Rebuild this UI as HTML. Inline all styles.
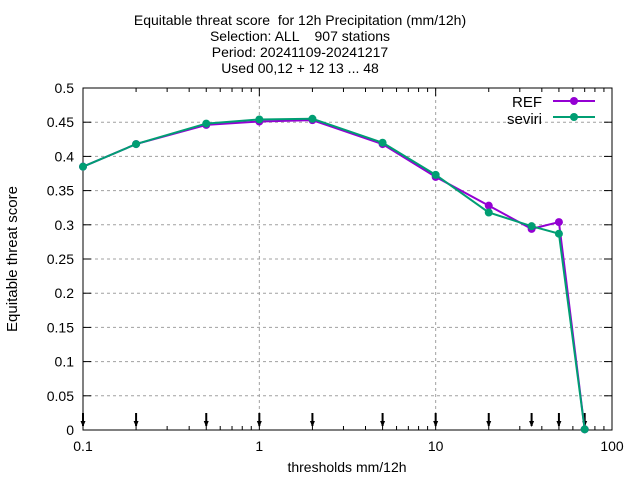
<!DOCTYPE html>
<html><head><meta charset="utf-8"><style>body{margin:0;background:#fff}svg{display:block;font-family:"Liberation Sans",sans-serif}text{white-space:pre}</style></head>
<body>
<svg id="chart" width="640" height="480" viewBox="0 0 640 480" xmlns="http://www.w3.org/2000/svg">
<g font-size="14" text-anchor="middle" fill="#000">
<text x="300" y="25" xml:space="preserve">Equitable threat score  for 12h Precipitation (mm/12h)</text>
<text x="300" y="41" xml:space="preserve">Selection: ALL    907 stations</text>
<text x="300" y="57">Period: 20241109-20241217</text>
<text x="300" y="73">Used 00,12 + 12 13 ... 48</text>
</g>
<g id="grid"></g>
<g id="axes"></g>
<g id="series"></g>
<text transform="translate(17,259) rotate(-90)" font-size="15" text-anchor="middle">Equitable threat score</text>
<text x="347" y="472" font-size="14" text-anchor="middle">thresholds mm/12h</text>
<g font-size="15">
<g><text x="542" y="107" text-anchor="end">REF</text><line x1="553" y1="101" x2="595" y2="101" stroke="#9400d3" stroke-width="2"/><circle cx="574" cy="101" r="4" fill="#9400d3"/></g>
<g><text x="542" y="124" text-anchor="end">seviri</text><line x1="553" y1="117" x2="595" y2="117" stroke="#009e73" stroke-width="2"/><circle cx="574" cy="117" r="4" fill="#009e73"/></g>
</g>
</svg>
<script>
const thresholds=[0.1,0.2,0.5,1,2,5,10,20,35,50,70];
const refValues=[0.385,0.418,0.446,0.451,0.453,0.418,0.370,0.328,0.294,0.304,0.001];
const seviriValues=[0.385,0.418,0.448,0.454,0.455,0.420,0.373,0.318,0.298,0.287,0.001];
const yTicks=[0,0.05,0.1,0.15,0.2,0.25,0.3,0.35,0.4,0.45,0.5];
const yTickLabels=["0","0.05","0.1","0.15","0.2","0.25","0.3","0.35","0.4","0.45","0.5"];
const xTicks=[0.1,1,10,100];
const xTickLabels=["0.1","1","10","100"];
const L=83,R=612,T=88,B=430;
const NS="http://www.w3.org/2000/svg";
const xs=v=>L+(Math.log10(v)+1)/3*(R-L);
const ys=v=>B-v/0.5*(B-T);
function mk(tag,attrs,parent){const e=document.createElementNS(NS,tag);for(const k in attrs)e.setAttribute(k,attrs[k]);parent.appendChild(e);return e;}
const grid=document.getElementById('grid'),axes=document.getElementById('axes'),series=document.getElementById('series');
yTicks.forEach((t,i)=>{const y=ys(t);
 if(i>0&&i<yTicks.length-1){const g=mk('line',{x1:L,x2:R,y1:y,y2:y,stroke:'#a0a0a0','stroke-dasharray':'3,3'},grid);}
 mk('line',{x1:L,x2:L+8,y1:y,y2:y,stroke:'#000'},axes);mk('line',{x1:R,x2:R-8,y1:y,y2:y,stroke:'#000'},axes);
 const tx=mk('text',{x:L-9,y:y+5,'text-anchor':'end','font-size':14},axes);tx.textContent=yTickLabels[i];
 });
xTicks.forEach((t,i)=>{const x=xs(t);
 if(i>0&&i<xTicks.length-1){const g=mk('line',{x1:x,x2:x,y1:T,y2:B,stroke:'#a0a0a0','stroke-dasharray':'3,3'},grid);}
 mk('line',{x1:x,x2:x,y1:B,y2:B-8,stroke:'#000'},axes);mk('line',{x1:x,x2:x,y1:T,y2:T+8,stroke:'#000'},axes);
 if(i<xTicks.length-1){for(let m=2;m<10;m++){const xm=xs(t*m);mk('line',{x1:xm,x2:xm,y1:B,y2:B-4,stroke:'#000'},axes);mk('line',{x1:xm,x2:xm,y1:T,y2:T+4,stroke:'#000'},axes);}}
 const tx=mk('text',{x:x,y:B+21,'text-anchor':'middle','font-size':14},axes);tx.textContent=xTickLabels[i];
 });
const fr=mk('rect',{x:L,y:T,width:R-L,height:B-T,fill:'none',stroke:'#000'},axes);

thresholds.forEach(t=>{const x=xs(t);const a=mk('g',{},axes);
 
 mk('line',{x1:x,x2:x,y1:413,y2:426,stroke:'#000','stroke-width':2},a);
 mk('path',{d:`M${x-2.5},${421} L${x+2.5},${421} L${x},${427} Z`,fill:'#000'},a);});
function draw(vals,color,name){const g=mk('g',{},series);
 
 mk('polyline',{points:vals.map((v,i)=>xs(thresholds[i])+','+ys(v)).join(' '),fill:'none',stroke:color,'stroke-width':2},g);
 vals.forEach((v,i)=>{const c=mk('circle',{cx:xs(thresholds[i]),cy:ys(v),r:4,fill:color},g);
  });}
draw(refValues,'#9400d3','series-ref');
draw(seviriValues,'#009e73','series-seviri');
</script>
</body></html>
